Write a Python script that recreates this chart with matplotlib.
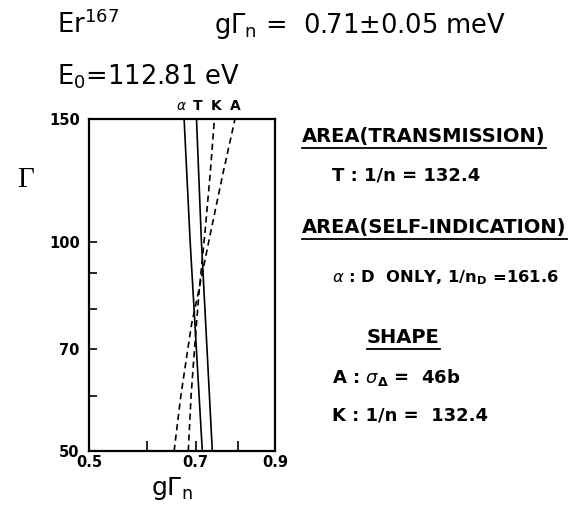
import matplotlib
matplotlib.use("Agg")
import matplotlib.pyplot as plt
from matplotlib.lines import Line2D

plt.rcParams['font.family'] = ['DejaVu Sans']
plt.rcParams['mathtext.default'] = 'regular'
plt.rcParams['lines.scale_dashes'] = False

# curves: gamma (Γ, meV) vs g*Gamma_n (meV)
alpha_gamma = [50, 100, 150]
alpha_ggn = [0.715, 0.688, 0.675]

t_gamma = [50, 100, 150]
t_ggn = [0.738, 0.713, 0.702]

k_gamma = [50, 60, 75, 85, 93, 103, 125, 150]
k_ggn = [0.684, 0.690, 0.701, 0.708, 0.714, 0.721, 0.733, 0.743]

a_gamma = [50, 60, 76, 85, 103, 125, 150]
a_ggn = [0.654, 0.668, 0.691, 0.707, 0.734, 0.763, 0.793]

x_ticks = [0.5, 0.6, 0.7, 0.8, 0.9]
x_ticklabels = ['0.5', '', '0.7', '', '0.9']
y_ticks = [50, 70, 100, 150]
y_minor = [60, 80, 90]

fig = plt.figure(figsize=(5.78, 5.16), dpi=100)
W, H = 578, 516

# axes box in pixels: left 89, right 275, top 119, bottom 451
ax = fig.add_axes([89.3 / W, 1 - 451 / H, (275 - 89.3) / W, (451 - 119) / H])
ax.set_xscale('log')
ax.set_yscale('log')
ax.set_xlim(0.5, 0.9)
ax.set_ylim(50, 150)

solid = dict(color='black', lw=1.2)
dashed = dict(color='black', lw=1.2, ls=(0, (4.5, 3)))
ax.plot(alpha_ggn, alpha_gamma, **solid)
ax.plot(t_ggn, t_gamma, **solid)
ax.plot(k_ggn, k_gamma, **dashed)
ax.plot(a_ggn, a_gamma, **dashed)

# curve names above the top end of each curve
trans = ax.get_xaxis_transform()
for name, xs, dx in [(r'$\mathit{\alpha}$', alpha_ggn, -0.006), ('T', t_ggn, 0.002),
                     ('K', k_ggn, 0.004), ('A', a_ggn, 0.002)]:
    ax.text(xs[-1] + dx, 1.027, name, transform=trans, ha='center',
            va='baseline', fontsize=10, fontweight='bold')

for s in ax.spines.values():
    s.set_linewidth(1.6)

ax.xaxis.set_major_locator(matplotlib.ticker.FixedLocator(x_ticks))
ax.xaxis.set_major_formatter(matplotlib.ticker.FixedFormatter(x_ticklabels))
ax.xaxis.set_minor_locator(matplotlib.ticker.NullLocator())
ax.yaxis.set_major_locator(matplotlib.ticker.FixedLocator(y_ticks))
ax.yaxis.set_major_formatter(matplotlib.ticker.FixedFormatter([str(v) for v in y_ticks]))
ax.yaxis.set_minor_locator(matplotlib.ticker.FixedLocator(y_minor))
ax.yaxis.set_minor_formatter(matplotlib.ticker.NullFormatter())

ax.tick_params(axis='x', which='major', direction='in', length=7, width=1.2,
               pad=3, labelsize=10.5)
ax.tick_params(axis='y', which='both', direction='in', length=6, width=1.2,
               pad=7, labelsize=10.5)
for lab in ax.get_xticklabels() + ax.get_yticklabels():
    lab.set_fontweight('bold')

ax.set_xlabel(r'g$\Gamma_n$', fontsize=18)
ax.xaxis.set_label_coords(0.445, -0.072)
ax.set_ylabel('Γ', rotation=0, fontsize=21, family='Liberation Serif',
              ha='center', va='center')
ax.yaxis.set_label_coords(-0.341, 0.816)

# header
fig.text(57 / W, 1 - 33 / H, r'Er$^{167}$', fontsize=18.5, va='baseline')
fig.text(214 / W, 1 - 33 / H, r'g$\Gamma_n$ =  0.71±0.05 meV', fontsize=18.5,
         va='baseline')
fig.text(57 / W, 1 - 84 / H, r'E$_0$=112.81 eV', fontsize=18.5, va='baseline')

# notes on the right: (x px, baseline px, text, size, underlined)
notes = [
    (302, 142, 'AREA(TRANSMISSION)', 14, True),
    (332, 180, 'T : 1/n = 132.4', 13, False),
    (302, 233, 'AREA(SELF-INDICATION)', 14, True),
    (332, 282, r'$\mathit{\alpha}$ : D  ONLY, 1/n$_D$ =161.6', 11.8, False),
    (367, 343, 'SHAPE', 14, True),
    (332, 383, r'A : $\mathit{\sigma}_\Delta$ =  46b', 13, False),
    (332, 420, 'K : 1/n =  132.4', 13, False),
]
fig.canvas.draw()
renderer = fig.canvas.get_renderer()
for px, py, txt, size, underline in notes:
    t = fig.text(px / W, 1 - py / H, txt, fontsize=size, fontweight='bold',
                 va='baseline')
    if underline:
        bb = t.get_window_extent(renderer)
        yline = 1 - (py + 6) / H
        fig.add_artist(Line2D([bb.x0 / W, bb.x1 / W], [yline, yline],
                              color='black', lw=1.3))

fig.savefig('out.png', dpi=100)
